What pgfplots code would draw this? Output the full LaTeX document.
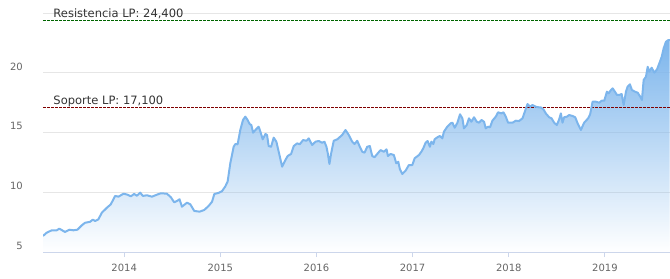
\documentclass[border=0pt]{standalone}
\usepackage{fontspec}
\setmainfont{DejaVu Sans}
\usepackage{pgfplots}
\usepackage{pgfplotstable}
\pgfplotsset{compat=1.18}
\usetikzlibrary{fadings}
\definecolor{lc}{HTML}{7CB5EC}
\definecolor{gridc}{HTML}{E6E6E6}
\definecolor{axisc}{HTML}{CCD6EB}
\definecolor{tickc}{HTML}{666666}
\definecolor{txtc}{HTML}{333333}
\definecolor{resc}{RGB}{0,100,0}
\definecolor{supc}{RGB}{128,0,0}
\tikzfading[name=fadedown, top color=transparent!0, bottom color=transparent!100]
\pgfplotstableread{
x y
2013.156 6.30
2013.195 6.58
2013.247 6.78
2013.299 6.78
2013.326 6.92
2013.351 6.80
2013.385 6.64
2013.430 6.83
2013.472 6.78
2013.514 6.83
2013.559 7.20
2013.594 7.42
2013.646 7.50
2013.674 7.68
2013.698 7.57
2013.732 7.71
2013.768 8.27
2013.820 8.69
2013.861 8.98
2013.906 9.69
2013.941 9.63
2013.993 9.88
2014.034 9.80
2014.070 9.66
2014.104 9.86
2014.132 9.71
2014.167 9.97
2014.195 9.69
2014.236 9.75
2014.289 9.63
2014.341 9.80
2014.382 9.92
2014.445 9.88
2014.486 9.58
2014.521 9.15
2014.555 9.29
2014.576 9.41
2014.601 8.78
2014.653 9.12
2014.688 8.98
2014.729 8.42
2014.784 8.36
2014.833 8.50
2014.878 8.84
2014.914 9.20
2014.938 9.86
2014.982 9.95
2015.018 10.10
2015.052 10.50
2015.076 10.90
2015.104 12.46
2015.139 13.86
2015.156 14.09
2015.180 14.07
2015.208 15.28
2015.236 16.13
2015.260 16.41
2015.284 16.13
2015.305 15.79
2015.323 15.70
2015.341 15.05
2015.365 15.28
2015.399 15.56
2015.417 15.14
2015.441 14.49
2015.469 14.94
2015.486 14.86
2015.503 13.92
2015.528 13.86
2015.555 14.63
2015.583 14.29
2015.611 13.31
2015.643 12.17
2015.677 12.74
2015.701 13.08
2015.736 13.25
2015.764 13.92
2015.799 14.15
2015.826 14.07
2015.861 14.43
2015.896 14.37
2015.920 14.57
2015.955 14.01
2015.990 14.29
2016.024 14.35
2016.059 14.20
2016.083 14.29
2016.104 13.86
2016.118 13.30
2016.135 12.40
2016.153 13.31
2016.180 14.37
2016.216 14.49
2016.268 14.86
2016.302 15.28
2016.336 14.86
2016.372 14.29
2016.396 14.09
2016.424 14.37
2016.451 13.86
2016.476 13.44
2016.500 13.36
2016.528 13.86
2016.555 13.92
2016.580 13.08
2016.604 12.97
2016.632 13.25
2016.667 13.58
2016.701 13.44
2016.729 13.64
2016.743 13.08
2016.771 13.25
2016.805 13.16
2016.830 12.46
2016.851 12.59
2016.868 11.95
2016.893 11.55
2016.927 11.83
2016.961 12.31
2016.997 12.31
2017.021 12.88
2017.066 13.16
2017.091 13.44
2017.111 13.73
2017.135 14.20
2017.156 14.35
2017.180 13.86
2017.195 14.29
2017.216 14.09
2017.229 14.49
2017.257 14.66
2017.284 14.77
2017.309 14.57
2017.326 15.14
2017.361 15.56
2017.396 15.85
2017.414 15.90
2017.438 15.47
2017.466 15.90
2017.493 16.61
2017.518 16.27
2017.534 15.42
2017.563 15.70
2017.586 16.27
2017.611 15.98
2017.639 16.36
2017.667 15.98
2017.691 15.90
2017.716 16.13
2017.743 15.98
2017.760 15.42
2017.784 15.56
2017.805 15.51
2017.830 16.07
2017.865 16.41
2017.889 16.78
2017.924 16.69
2017.945 16.78
2017.969 16.41
2017.993 15.90
2018.039 15.90
2018.073 16.07
2018.107 16.04
2018.143 16.27
2018.167 16.83
2018.195 17.48
2018.222 17.25
2018.247 17.40
2018.281 17.25
2018.316 17.20
2018.333 17.20
2018.361 17.03
2018.385 16.69
2018.420 16.36
2018.445 16.27
2018.472 15.90
2018.500 15.70
2018.524 16.18
2018.542 16.69
2018.559 15.90
2018.576 16.36
2018.604 16.41
2018.628 16.55
2018.663 16.47
2018.691 16.36
2018.716 15.85
2018.750 15.28
2018.784 15.90
2018.826 16.27
2018.847 16.63
2018.872 17.68
2018.906 17.68
2018.941 17.59
2018.966 17.76
2018.993 17.76
2019.021 18.53
2019.039 18.39
2019.063 18.67
2019.080 18.81
2019.104 18.53
2019.125 18.25
2019.149 18.25
2019.174 18.33
2019.195 17.40
2019.219 18.53
2019.236 18.95
2019.260 19.15
2019.281 18.67
2019.313 18.53
2019.341 18.44
2019.368 18.10
2019.385 17.82
2019.403 19.52
2019.427 19.80
2019.445 20.64
2019.461 20.22
2019.486 20.56
2019.514 20.14
2019.542 20.42
2019.566 20.93
2019.591 21.49
2019.611 22.20
2019.635 22.76
2019.659 22.90
2019.677 22.90
}\pricedata
\begin{document}
\begin{tikzpicture}
\useasboundingbox (0,0) rectangle (670bp,279bp);
\begin{axis}[
  at={(43bp,27bp)}, anchor=south west,
  scale only axis, width=627bp, height=252bp,
  xmin=2013.156, xmax=2019.677, ymin=5, ymax=26.09,
  axis x line*=bottom, axis y line*=left,
  x axis line style={draw=axisc, line width=1bp},
  y axis line style={draw=none},
  xtick={2014,2015,2016,2017,2018,2019},
  xticklabels={2014,2015,2016,2017,2018,2019},
  ytick={5,10,15,20},
  extra y ticks={25}, extra y tick labels={},
  extra y tick style={major tick length=0pt},
  ymajorgrids, grid style={draw=gridc, line width=1bp},
  tick align=outside, major tick length=5bp,
  xtick style={draw=axisc, line width=1bp},
  ytick style={draw=none},
  /pgf/number format/assume math mode=true,
  tick label style={font=\fontsize{10bp}{12bp}\selectfont, text=tickc, inner sep=0pt},
  xticklabel style={anchor=north, yshift=-7bp},
  yticklabel style={anchor=base east, xshift=-15bp, yshift=2.6bp},
  clip=true,
]
\addplot[draw=none, fill=lc, path fading=fadedown,
  y filter/.expression={5.0586+(y-5)*0.98745}]
  table[x=x, y=y] {\pricedata} -- (rel axis cs:1,0) -- (rel axis cs:0,0) -- cycle;
\addplot[supc, line width=1bp, dash pattern=on 3bp off 1bp] coordinates {(2013.156,17.1) (2019.677,17.1)};
\addplot[resc, line width=1bp, dash pattern=on 3bp off 1bp] coordinates {(2013.156,24.4) (2019.677,24.4)};
\addplot[lc, line width=2bp, line join=round,
  y filter/.expression={5.0586+(y-5)*0.98745}]
  table[x=x, y=y] {\pricedata};
\node[anchor=base west, inner sep=0pt, text=txtc, font=\fontsize{11.5bp}{13bp}\selectfont, xshift=10.3bp, yshift=3bp] at (axis cs:2013.156,24.4) {Resistencia LP: 24,400};
\node[anchor=base west, inner sep=0pt, text=txtc, font=\fontsize{11.5bp}{13bp}\selectfont, xshift=10.3bp, yshift=3bp] at (axis cs:2013.156,17.1) {Soporte LP: 17,100};
\end{axis}
\end{tikzpicture}
\end{document}
